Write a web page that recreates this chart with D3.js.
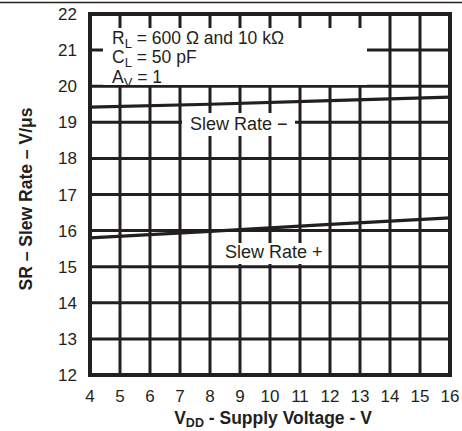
<!DOCTYPE html>
<html><head><meta charset="utf-8">
<script src="https://cdn.jsdelivr.net/npm/d3@7"></script>
<style>body{margin:0;background:#fff}svg{display:block}text{font-family:"Liberation Sans",Arial,sans-serif;fill:#231f20}</style>
</head><body>
<svg id="c" width="462" height="431"></svg>
<script>
const voltage = [4, 8, 12, 16];
const slewRateMinus = [19.42, 19.5, 19.6, 19.7];
const slewRatePlus = [15.8, 15.98, 16.17, 16.35];
const xTicks = [4,5,6,7,8,9,10,11,12,13,14,15,16];
const yTicks = [12,13,14,15,16,17,18,19,20,21,22];

const svg = d3.select("#c");
const L = 90, R = 450, T = 14, B = 375;
const x = d3.scaleLinear().domain([4,16]).range([L,R]);
const y = d3.scaleLinear().domain([12,22]).range([B,T]);
const ink = "#231f20";
const FS = 17.5;

// top rule
svg.append("line").attr("x1",0).attr("x2",462).attr("y1",2.5).attr("y2",2.5).attr("stroke",ink).attr("stroke-width",1.5);

// grid
const g = svg.append("g");
g.selectAll(".vx").data(xTicks).join("line").attr("x1",d=>x(d)).attr("x2",d=>x(d)).attr("y1",T).attr("y2",B).attr("stroke",ink).attr("stroke-width",3);
g.selectAll(".hy").data(yTicks).join("line").attr("x1",L).attr("x2",R).attr("y1",d=>y(d)).attr("y2",d=>y(d)).attr("stroke",ink).attr("stroke-width",3);

// white label boxes
svg.append("rect").attr("x",103).attr("y",28).attr("width",264).attr("height",57).attr("fill","#fff");
svg.append("rect").attr("x",182).attr("y",113).attr("width",113).attr("height",23).attr("fill","#fff");
svg.append("rect").attr("x",213).attr("y",243).attr("width",115).attr("height",21).attr("fill","#fff");

// border
svg.append("rect").attr("x",L).attr("y",T).attr("width",R-L).attr("height",B-T).attr("fill","none").attr("stroke",ink).attr("stroke-width",4);

// lines
const line = d3.line().x((d,i)=>x(voltage[i])).y(d=>y(d));
svg.append("path").datum(slewRateMinus).attr("d",line).attr("fill","none").attr("stroke",ink).attr("stroke-width",3.2);
svg.append("path").datum(slewRatePlus).attr("d",line).attr("fill","none").attr("stroke",ink).attr("stroke-width",3.2);

// tick labels
svg.selectAll(".xt").data(xTicks).join("text").attr("x",d=>x(d)).attr("y",402).attr("text-anchor","middle").attr("font-size",17).text(d=>d);
svg.selectAll(".yt").data(yTicks).join("text").attr("x",77).attr("y",d=>y(d)+6).attr("text-anchor","end").attr("font-size",17).text(d=>d);

// annotations
function sub(t, main, s, px, py){
  const e = svg.append("text").attr("x",px).attr("y",py).attr("font-size",FS);
  e.append("tspan").text(main);
  e.append("tspan").attr("dy",4).attr("font-size",13).text(s);
  e.append("tspan").attr("dy",-4).text(t);
}
sub(" = 600 Ω and 10 kΩ","R","L",112,43.5);
sub(" = 50 pF","C","L",112,63);
sub(" = 1","A","V",112,83);

svg.append("text").attr("x",190).attr("y",130).attr("font-size",18).text("Slew Rate −");
svg.append("text").attr("x",225).attr("y",258).attr("font-size",18).text("Slew Rate +");

// axis titles
const xt = svg.append("text").attr("x",273).attr("y",424).attr("text-anchor","middle").attr("font-size",17.5).attr("font-weight","bold");
xt.append("tspan").text("V");
xt.append("tspan").attr("dy",3).attr("font-size",12.5).text("DD");
xt.append("tspan").attr("dy",-3).text(" - Supply Voltage - V");

svg.append("text").attr("transform","translate(32,199) rotate(-90)").attr("text-anchor","middle").attr("font-size",17.5).attr("font-weight","bold").text("SR – Slew Rate – V/μs");
</script>
</body></html>
